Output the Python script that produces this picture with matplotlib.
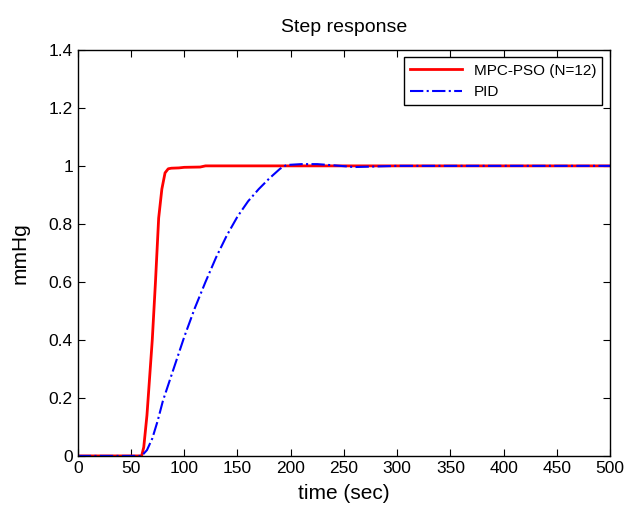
import matplotlib
matplotlib.use("Agg")
import matplotlib.pyplot as plt
import numpy as np

plt.rcParams["font.family"] = ["Liberation Sans", "DejaVu Sans"]

# MPC-PSO (N=12) response
t_mpc = [0, 60, 62, 65, 70, 73, 76, 79, 82, 85, 88, 95, 100, 115, 120, 500]
y_mpc = [0, 0, 0.03, 0.14, 0.40, 0.60, 0.82, 0.92, 0.976, 0.99, 0.992, 0.993, 0.995, 0.996, 1.0, 1.0]

# PID response
t_pid = [0, 60, 65, 70, 75, 80, 90, 100, 110, 120, 130, 140, 150, 160, 170, 180, 190,
         196, 210, 225, 240, 260, 280, 300, 500]
y_pid = [0, 0, 0.02, 0.06, 0.12, 0.19, 0.30, 0.41, 0.51, 0.60, 0.685, 0.76, 0.825, 0.878,
         0.92, 0.957, 0.99, 1.003, 1.006, 1.006, 1.002, 0.996, 0.998, 1.0, 1.0]

xticks = np.arange(0, 501, 50)
yticks = [0, 0.2, 0.4, 0.6, 0.8, 1, 1.2, 1.4]
ytick_labels = ["0", "0.2", "0.4", "0.6", "0.8", "1", "1.2", "1.4"]

fig = plt.figure(figsize=(6.27, 5.14), dpi=100)
ax = fig.add_axes([0.124, 0.113, 0.849, 0.79])

ax.plot(t_mpc, y_mpc, color="red", linewidth=2, label="MPC-PSO (N=12)")
ax.plot(t_pid, y_pid, color="blue", linestyle="-.", linewidth=1.5, label="PID")

ax.set_xlim(0, 500)
ax.set_ylim(0, 1.4)
ax.set_xticks(xticks)
ax.set_yticks(yticks)
ax.set_yticklabels(ytick_labels)
ax.tick_params(direction="in", top=True, right=True, labelsize=12.5, length=5)
for s in ax.spines.values():
    s.set_linewidth(1.0)

ax.set_xlabel("time (sec)", fontsize=15, labelpad=6)
ax.set_ylabel("mmHg", fontsize=15, labelpad=14)
ax.set_title("Step response", fontsize=14, pad=13)

leg = ax.legend(loc="upper right", fontsize=11, fancybox=False, edgecolor="black",
                framealpha=1, handlelength=3.4, borderaxespad=0.5)
leg.get_frame().set_linewidth(1.0)

fig.savefig("out.png", dpi=100)
